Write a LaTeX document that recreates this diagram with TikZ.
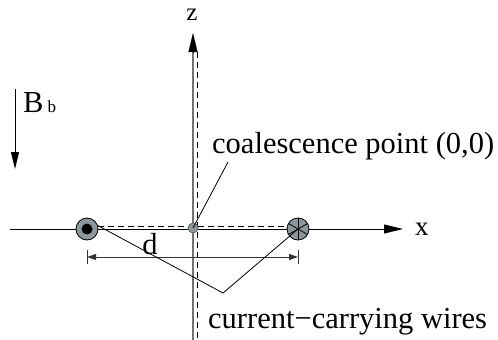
\documentclass[tikz,border=0pt]{standalone}
\usepackage{fontspec}
\setmainfont{Liberation Serif}
\usetikzlibrary{arrows.meta,calc}
\begin{document}
\begin{tikzpicture}[x=1pt,y=-1pt,
  wire/.style={circle,draw=black,line width=0.8pt,fill=wirefill,inner sep=0pt},
  thin line/.style={line width=0.8pt,black},
  dashline/.style={line width=0.9pt,black,dash pattern=on 6pt off 4pt},
  big/.style={font=\fontsize{30.5}{36}\selectfont,inner sep=0pt},
  tip/.style={-{Triangle[length=19pt,width=9pt]}}]
\definecolor{wirefill}{HTML}{8C979C}
\useasboundingbox (0,0) rectangle (498,340);
% coordinates
\coordinate (ztop) at (193,33);
\coordinate (zbot) at (193,340);
\coordinate (dztop) at (197,52);
\coordinate (dzbot) at (197,340);
\coordinate (xl) at (10,229);
\coordinate (xr) at (403,229);
\coordinate (vp) at (223,293);
\coordinate (ls) at (92,222.4);
\coordinate (cp) at (228,162);
\coordinate (bt) at (15,89);
\coordinate (bb) at (15,169);
\coordinate (dl) at (87,257);
\coordinate (dr) at (298,257);
\coordinate (hl) at (98,226);
\coordinate (hr) at (288,226);
% axes
\draw[thin line,tip] (xl) -- (xr);
\draw[line width=1.2pt,color=black!55] (zbot) -- (193,50);
\draw[black,tip,line width=0.1pt] (193,52) -- (ztop);
\draw[dashline] (dztop) -- (dzbot);
\draw[dashline] (hl) -- (hr);
% dimension d
\draw[line width=1pt,black!80,{Triangle[length=9pt,width=6pt]}-{Triangle[length=9pt,width=6pt]}] (dl) -- (dr);
\draw[line width=1pt,black!80] (87,250) -- (87,264);
\draw[line width=1pt,black!80] (298,250) -- (298,264);
% pointer lines
\draw[thin line] (ls) -- (vp);
% wires
\node[wire,minimum size=22pt] (lw) at (87,229) {};
\node[circle,fill=black,minimum size=11pt,inner sep=0pt] (lwd) at (lw) {};
\node[wire,minimum size=10pt,draw=black!60] (c) at (193,228) {};
\node[wire,minimum size=22pt] (rw) at (298,229) {};
\foreach \a in {90,30,150}{
  \draw[line width=0.8pt] ($(rw)+(\a:11pt)$) -- ($(rw)+(\a+180:11pt)$);
}
\draw[thin line] (rw.center) -- (vp);
\draw[thin line] (c.center) -- (cp);
% B field arrow
\draw[line width=0.8pt,black,-{Triangle[length=17pt,width=8pt]}] (bt) -- (bb);
% labels
\node[big,anchor=base west] (bl) at (23,112) {B\hspace{4pt}{\fontsize{17}{20}\selectfont b}};
\node[big,anchor=base] (dlab) at (150,254) {d};
\node[inner sep=0pt,anchor=base,font=\fontsize{25}{30}\selectfont] (zl) at (192,20) {z};
\node[inner sep=0pt,anchor=base west,font=\fontsize{27}{32}\selectfont] (xlab) at (415,235) {x};
\node[big,anchor=base west] (cl) at (212,153) {coalescence point (0,0)};
\node[big,anchor=base west] (wl) at (208,328) {current−carrying wires};
\end{tikzpicture}
\end{document}
